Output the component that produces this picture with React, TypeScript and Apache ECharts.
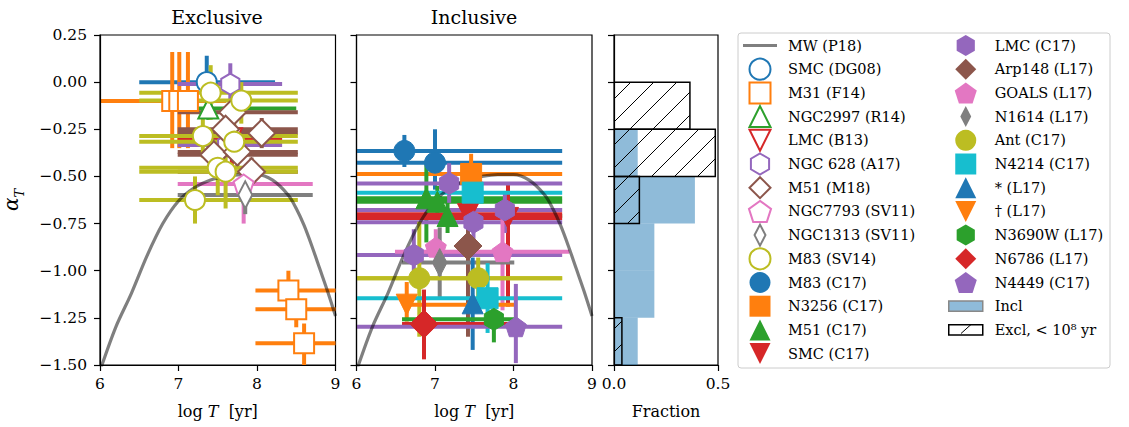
import React, { useEffect, useRef } from 'react';
import * as echarts from 'echarts';

const FONT = 'DejaVu Serif';

// Milky Way (P18) curve: log T and alpha_T
const MW_LOGT = [6.0, 6.2, 6.4, 6.6, 6.8, 7.0, 7.2, 7.4, 7.6, 7.8, 8.0, 8.2, 8.4, 8.5, 8.6, 8.7, 8.8, 8.9, 9.0];
const MW_ALPHA = [-1.53, -1.3, -1.12, -0.92, -0.75, -0.63, -0.56, -0.52, -0.5, -0.49, -0.49, -0.52, -0.6, -0.67, -0.76, -0.87, -0.99, -1.11, -1.24];

// rows: [logT, alpha, logT_lo, logT_hi, alpha_lo, alpha_hi]
// Exclusive
const SMC_DG08 = [[7.36, 0.0, 6.5, 8.23, -0.06, 0.14]];
const M31_F14 = [
  [6.92, -0.1, 5.7, 7.6, -0.35, 0.16],
  [7.01, -0.1, 5.7, 7.6, -0.35, 0.16],
  [7.12, -0.1, 5.7, 7.6, -0.35, 0.16],
  [8.4, -1.105, 7.98, 9.3, -1.17, -1.0],
  [8.5, -1.205, 7.98, 9.3, -1.3, -1.12],
  [8.6, -1.385, 7.98, 9.3, -1.5, -1.28],
];
const NGC2997_R14 = [[7.38, -0.14, 6.99, 8.5, -0.2, -0.08]];
const LMC_B13 = [[7.68, -0.298, 6.99, 8.32, -0.45, -0.2]];
const NGC628_A17 = [
  [7.66, -0.01, 6.99, 8.32, -0.1, 0.1],
  [7.62, -0.333, 6.99, 8.32, -0.4, -0.27],
];
const M51_M18 = [
  [7.69, -0.16, 6.99, 8.52, -0.24, -0.08],
  [7.6, -0.25, 6.99, 8.52, -0.33, -0.17],
  [8.06, -0.27, 6.99, 8.52, -0.35, -0.19],
  [7.45, -0.385, 6.99, 8.52, -0.46, -0.3],
  [7.75, -0.37, 6.99, 8.52, -0.45, -0.29],
  [7.93, -0.475, 6.99, 8.52, -0.55, -0.4],
];
const NGC7793_SV11 = [[7.83, -0.54, 6.99, 8.71, -0.75, -0.45]];
const NGC1313_SV11 = [[7.85, -0.598, 6.99, 8.71, -0.7, -0.5]];
const M83_SV14 = [
  [7.41, -0.056, 6.5, 8.52, -0.2, 0.09],
  [7.8, -0.098, 6.5, 8.52, -0.22, 0.0],
  [7.31, -0.286, 6.5, 8.52, -0.4, -0.17],
  [7.71, -0.316, 6.5, 8.52, -0.42, -0.22],
  [7.5, -0.454, 6.5, 8.52, -0.6, -0.36],
  [7.6, -0.475, 6.5, 8.52, -0.67, -0.38],
  [7.21, -0.625, 6.5, 8.52, -0.75, -0.5],
];

// Inclusive
const M83_C17 = [
  [6.61, -0.365, 5.5, 8.62, -0.45, -0.28],
  [7.0, -0.427, 5.5, 8.62, -0.57, -0.25],
];
const N3256_C17 = [[7.46, -0.487, 5.5, 8.62, -0.66, -0.38]];
const M51_C17 = [
  [6.89, -0.616, 5.5, 8.62, -0.85, -0.44],
  [7.03, -0.634, 5.5, 8.62, -0.72, -0.55],
  [7.16, -0.71, 5.5, 8.62, -0.8, -0.62],
];
const SMC_C17 = [
  [7.42, -0.7, 5.5, 8.62, -0.75, -0.62],
  [7.93, -0.72, 5.5, 8.62, -1.19, -0.53],
];
const LMC_C17 = [
  [7.18, -0.537, 5.5, 8.62, -0.64, -0.43],
  [7.89, -0.678, 5.5, 8.62, -0.8, -0.58],
  [7.49, -0.743, 5.5, 8.62, -0.85, -0.66],
  [6.73, -0.917, 5.5, 8.62, -1.05, -0.78],
];
const ARP148_L17 = [[7.42, -0.869, 7.42, 7.42, -1.35, -0.74]];
const GOALS_L17 = [
  [7.01, -0.875, 7.01, 7.01, -0.98, -0.78],
  [7.86, -0.899, 6.49, 8.71, -1.21, -0.69],
];
const N1614_L17 = [[7.06, -0.957, 6.58, 8.01, -1.14, -0.77]];
const ANT_C17 = [
  [6.8, -1.04, 5.5, 8.62, -1.35, -0.74],
  [7.55, -1.04, 5.5, 8.62, -1.16, -0.93],
];
const N4214_C17 = [
  [7.48, -0.586, 5.5, 8.62, -0.63, -0.54],
  [7.67, -1.146, 5.5, 8.62, -1.33, -0.96],
];
const STAR_L17 = [[7.48, -1.173, 7.48, 7.48, -1.42, -0.93]];
const DAGGER_L17 = [[6.64, -1.18, 6.63, 8.01, -1.27, -1.06]];
const N3690W_L17 = [[7.75, -1.258, 6.58, 8.01, -1.38, -1.21]];
const N6786_L17 = [[6.86, -1.283, 6.58, 8.01, -1.47, -1.1]];
const N4449_C17 = [[8.03, -1.297, 5.5, 8.62, -1.49, -1.07]];

// Histogram bins (alpha_T) and fractions
const BIN_LO = [-1.5, -1.25, -1.0, -0.75, -0.5, -0.25];
const BIN_HI = [-1.25, -1.0, -0.75, -0.5, -0.25, 0.0];
const INCL_FRAC = [0.114, 0.194, 0.194, 0.389, 0.114, 0];
const EXCL_FRAC = [0.038, 0, 0, 0.122, 0.487, 0.365];

const X_MIN = 6, X_MAX = 9, Y_MIN = -1.5, Y_MAX = 0.25;

const C = {
  blue: '#1f77b4', orange: '#ff7f0e', green: '#2ca02c', red: '#d62728', purple: '#9467bd',
  brown: '#8c564b', pink: '#e377c2', gray: '#7f7f7f', olive: '#bcbd22', cyan: '#17becf',
};
const HEX = 'path://M0,-10L8.66,-5L8.66,5L0,10L-8.66,5L-8.66,-5Z';
const PENT = 'path://M0,-10L9.51,-3.09L5.88,8.09L-5.88,8.09L-9.51,-3.09Z';
const TRI_DOWN = 'path://M-10,-10L10,-10L0,10Z';
const TRI_UP = 'path://M0,-10L10,10L-10,10Z';
const SQUARE = 'path://M0,0H20V20H0Z';
const DIAMOND = 'path://M0,-10L10,0L0,10L-10,0Z';
const THIN_D = 'path://M0,-10L5.2,0L0,10L-5.2,0Z';

const DATASETS = [
  { name: 'SMC (DG08)', rows: SMC_DG08, color: C.blue, symbol: 'circle', size: 20, open: true, panel: 0 },
  { name: 'M31 (F14)', rows: M31_F14, color: C.orange, symbol: SQUARE, size: 20, open: true, panel: 0 },
  { name: 'NGC2997 (R14)', rows: NGC2997_R14, color: C.green, symbol: TRI_UP, size: 20, open: true, panel: 0 },
  { name: 'LMC (B13)', rows: LMC_B13, color: C.red, symbol: TRI_DOWN, size: 20, open: true, panel: 0 },
  { name: 'NGC 628 (A17)', rows: NGC628_A17, color: C.purple, symbol: HEX, size: 21, open: true, panel: 0 },
  { name: 'M51 (M18)', rows: M51_M18, color: C.brown, symbol: DIAMOND, size: 27, open: true, panel: 0 },
  { name: 'NGC7793 (SV11)', rows: NGC7793_SV11, color: C.pink, symbol: PENT, size: 20, open: true, panel: 0 },
  { name: 'NGC1313 (SV11)', rows: NGC1313_SV11, color: C.gray, symbol: THIN_D, size: 27, open: true, panel: 0 },
  { name: 'M83 (SV14)', rows: M83_SV14, color: C.olive, symbol: 'circle', size: 20, open: true, panel: 0 },
  { name: 'M83 (C17)', rows: M83_C17, color: C.blue, symbol: 'circle', size: 21, open: false, panel: 1 },
  { name: 'N3256 (C17)', rows: N3256_C17, color: C.orange, symbol: SQUARE, size: 21, open: false, panel: 1 },
  { name: 'M51 (C17)', rows: M51_C17, color: C.green, symbol: TRI_UP, size: 21, open: false, panel: 1 },
  { name: 'SMC (C17)', rows: SMC_C17, color: C.red, symbol: TRI_DOWN, size: 21, open: false, panel: 1 },
  { name: 'LMC (C17)', rows: LMC_C17, color: C.purple, symbol: HEX, size: 22, open: false, panel: 1 },
  { name: 'Arp148 (L17)', rows: ARP148_L17, color: C.brown, symbol: DIAMOND, size: 28, open: false, panel: 1 },
  { name: 'GOALS (L17)', rows: GOALS_L17, color: C.pink, symbol: PENT, size: 21, open: false, panel: 1 },
  { name: 'N1614 (L17)', rows: N1614_L17, color: C.gray, symbol: THIN_D, size: 28, open: false, panel: 1 },
  { name: 'Ant (C17)', rows: ANT_C17, color: C.olive, symbol: 'circle', size: 21, open: false, panel: 1 },
  { name: 'N4214 (C17)', rows: N4214_C17, color: C.cyan, symbol: SQUARE, size: 21, open: false, panel: 1 },
  { name: '* (L17)', rows: STAR_L17, color: C.blue, symbol: TRI_UP, size: 21, open: false, panel: 1 },
  { name: '† (L17)', rows: DAGGER_L17, color: C.orange, symbol: TRI_DOWN, size: 21, open: false, panel: 1 },
  { name: 'N3690W (L17)', rows: N3690W_L17, color: C.green, symbol: HEX, size: 22, open: false, panel: 1 },
  { name: 'N6786 (L17)', rows: N6786_L17, color: C.red, symbol: DIAMOND, size: 28, open: false, panel: 1 },
  { name: 'N4449 (C17)', rows: N4449_C17, color: C.purple, symbol: PENT, size: 21, open: false, panel: 1 },
];

const MW_NAME = 'MW (P18)';
const INCL_NAME = 'Incl';
const EXCL_NAME = 'Excl, < 10⁸ yr';
const INCL_FILL = 'rgba(31,119,180,0.5)';
const MW_COLOR = 'rgba(0,0,0,0.5)';

const clamp = (v: number, a: number, b: number) => Math.max(a, Math.min(b, v));

function buildOption() {
  const grids = [
    { left: 99, top: 35, width: 236.5, height: 330 },
    { left: 356.5, top: 35, width: 235.5, height: 330 },
    { left: 614, top: 35, width: 104, height: 330 },
  ].map((g) => ({ ...g, show: true, borderColor: '#000', borderWidth: 1.2, containLabel: false }));

  const tickStyle = { show: true, inside: false, length: 6, lineStyle: { color: '#000', width: 1.2 } };
  const lineStyle = { show: true, onZero: false, lineStyle: { color: '#000', width: 1.2 } };
  const labelFont = { fontFamily: FONT, fontSize: 15.5, color: '#000' };
  const nameStyle = {
    fontFamily: FONT, fontSize: 16, color: '#000',
    rich: {
      n: { fontFamily: FONT, fontSize: 16, color: '#000' },
      i: { fontFamily: FONT, fontSize: 16, color: '#000', fontStyle: 'italic' },
    },
  };

  const xAxes: any[] = [0, 1].map((i) => ({
    type: 'value', gridIndex: i, min: X_MIN, max: X_MAX, interval: 1, z: 10,
    axisLine: lineStyle, axisTick: tickStyle, splitLine: { show: false },
    axisLabel: { ...labelFont, margin: 11 },
    name: '{n|log }{i|T}{n|  [yr]}', nameLocation: 'middle', nameGap: 38, nameTextStyle: nameStyle,
  }));
  xAxes.push({
    type: 'value', gridIndex: 2, min: 0, max: 0.5, interval: 0.5, z: 10,
    axisLine: lineStyle, axisTick: tickStyle, splitLine: { show: false },
    axisLabel: { ...labelFont, margin: 11, formatter: (v: number) => v.toFixed(1) },
    name: 'Fraction', nameLocation: 'middle', nameGap: 38, nameTextStyle: nameStyle,
  });

  const yAxes: any[] = [0, 1, 2].map((i) => ({
    type: 'value', gridIndex: i, min: Y_MIN, max: Y_MAX, interval: 0.25, z: 10,
    axisLine: lineStyle, axisTick: tickStyle, splitLine: { show: false },
    axisLabel: {
      show: i === 0, ...labelFont, margin: 13,
      formatter: (v: number) => (v < 0 ? '−' : '') + Math.abs(v).toFixed(2),
    },
    ...(i === 0
      ? {
          name: '{a|α}{s|T}', nameLocation: 'middle', nameGap: 74, nameRotate: 90,
          nameTextStyle: {
            rich: {
              a: { fontFamily: FONT, fontSize: 20, fontStyle: 'italic', color: '#000', verticalAlign: 'middle', lineHeight: 30 },
              s: { fontFamily: FONT, fontSize: 13, fontStyle: 'italic', color: '#000', verticalAlign: 'bottom', lineHeight: 30 },
            },
          },
        }
      : {}),
  }));

  const series: any[] = [];

  // Error bars (drawn below everything else)
  DATASETS.forEach((ds) => {
    series.push({
      type: 'custom', name: ds.name + ' err', xAxisIndex: ds.panel, yAxisIndex: ds.panel,
      z: 2, silent: true, clip: true, data: ds.rows, encode: { x: 0, y: 1 },
      renderItem: (_p: any, api: any) => {
        const x = api.value(0), y = api.value(1);
        const x0 = clamp(api.value(2), X_MIN, X_MAX), x1 = clamp(api.value(3), X_MIN, X_MAX);
        const y0 = clamp(api.value(4), Y_MIN, Y_MAX), y1 = clamp(api.value(5), Y_MIN, Y_MAX);
        const children: any[] = [];
        if (x1 > x0) {
          const a = api.coord([x0, y]), b = api.coord([x1, y]);
          children.push({ type: 'line', shape: { x1: a[0], y1: a[1], x2: b[0], y2: b[1] }, style: { stroke: ds.color, lineWidth: 4 } });
        }
        if (y1 > y0) {
          const c = api.coord([x, y0]), d = api.coord([x, y1]);
          children.push({ type: 'line', shape: { x1: c[0], y1: c[1], x2: d[0], y2: d[1] }, style: { stroke: ds.color, lineWidth: 4 } });
        }
        return { type: 'group', children };
      },
    });
  });

  // MW curve in both panels
  const mwData = MW_LOGT.map((t, i) => [t, MW_ALPHA[i]]);
  [0, 1].forEach((p) => {
    series.push({
      type: 'line', name: MW_NAME, xAxisIndex: p, yAxisIndex: p, data: mwData, z: 3,
      symbol: 'none', smooth: 0.3, clip: true, silent: true,
      lineStyle: { color: MW_COLOR, width: 3.2 }, itemStyle: { color: MW_COLOR },
    });
  });

  // Markers
  DATASETS.forEach((ds) => {
    series.push({
      type: 'scatter', name: ds.name, xAxisIndex: ds.panel, yAxisIndex: ds.panel, z: 4, silent: true,
      data: ds.rows.map((r) => [r[0], r[1]]),
      symbol: ds.symbol, symbolSize: ds.size, symbolKeepAspect: true,
      itemStyle: ds.open
        ? { color: '#ffffff', borderColor: ds.color, borderWidth: 2, opacity: 1 }
        : { color: ds.color, borderColor: ds.color, borderWidth: 1, opacity: 1 },
    });
  });

  // Histogram
  const inclData = BIN_LO.map((lo, i) => [lo, BIN_HI[i], INCL_FRAC[i]]);
  const exclData = BIN_LO.map((lo, i) => [lo, BIN_HI[i], EXCL_FRAC[i]]);
  series.push({
    type: 'custom', name: INCL_NAME, xAxisIndex: 2, yAxisIndex: 2, z: 2, silent: true, clip: true,
    data: inclData, itemStyle: { color: INCL_FILL },
    renderItem: (_p: any, api: any) => {
      const lo = api.value(0), hi = api.value(1), f = api.value(2);
      if (!(f > 0)) return null;
      const p0 = api.coord([0, hi]), p1 = api.coord([f, lo]);
      return { type: 'rect', shape: { x: p0[0], y: p0[1], width: p1[0] - p0[0], height: p1[1] - p0[1] }, style: { fill: INCL_FILL } };
    },
  });
  series.push({
    type: 'custom', name: EXCL_NAME, xAxisIndex: 2, yAxisIndex: 2, z: 3, silent: true, clip: true,
    data: exclData, itemStyle: { color: '#fff' },
    renderItem: (_p: any, api: any) => {
      const lo = api.value(0), hi = api.value(1), f = api.value(2);
      if (!(f > 0)) return null;
      const p0 = api.coord([0, hi]), p1 = api.coord([f, lo]);
      const x0 = p0[0], y0 = p0[1], x1 = p1[0], y1 = p1[1];
      const s = 23;
      const children: any[] = [];
      for (let k = Math.ceil((x0 + y0) / s); k * s <= x1 + y1; k++) {
        const c = k * s;
        const xa = Math.max(x0, c - y1), xb = Math.min(x1, c - y0);
        if (xb <= xa) continue;
        children.push({ type: 'line', shape: { x1: xa, y1: c - xa, x2: xb, y2: c - xb }, style: { stroke: '#000', lineWidth: 1 } });
      }
      children.push({ type: 'rect', shape: { x: x0, y: y0, width: x1 - x0, height: y1 - y0 }, style: { fill: 'none', stroke: '#000', lineWidth: 1.5 } });
      return { type: 'group', children };
    },
  });

  const legendItem = (name: string) => {
    const ds = DATASETS.find((d) => d.name === name);
    if (!ds) return { name };
    return {
      name,
      icon: ds.symbol,
      itemStyle: ds.open
        ? { color: '#ffffff', borderColor: ds.color, borderWidth: 2 }
        : { color: ds.color, borderColor: ds.color, borderWidth: 0 },
    };
  };
  const colA = DATASETS.slice(0, 13).map((d) => d.name);
  const colB = DATASETS.slice(13).map((d) => d.name);
  const legendText = { fontFamily: FONT, fontSize: 14.5, color: '#000', lineHeight: 23 };
  const common = {
    top: 34, orient: 'vertical', itemWidth: 34, itemHeight: 21, itemGap: 0.7, padding: 0,
    selectedMode: false, symbolKeepAspect: true,
  };
  const legends = [
    {
      ...common, left: 743, textStyle: { ...legendText, padding: [0, 0, 0, 6] },
      data: [
        { name: MW_NAME, icon: 'path://M0,0H36V3H0Z', itemStyle: { color: MW_COLOR, borderWidth: 0 }, lineStyle: { color: MW_COLOR, width: 3.2 } },
        ...colA.map(legendItem),
      ],
    },
    {
      ...common, left: 948, textStyle: { ...legendText, padding: [0, 0, 0, 7] },
      data: [
        ...colB.map(legendItem),
        { name: INCL_NAME, icon: 'path://M0,0H33V10H0Z', itemStyle: { color: INCL_FILL, borderColor: '#888', borderWidth: 1.5 } },
        { name: EXCL_NAME, icon: 'path://M0,0H33V10H0Z', itemStyle: { color: '#fff', borderColor: '#000', borderWidth: 1.5 } },
      ],
    },
  ];

  const graphic = [
    { type: 'rect', z: -10, shape: { x: 738, y: 33, width: 372, height: 335, r: 3 }, style: { fill: '#fff', stroke: '#cccccc', lineWidth: 1 } },
    { type: 'line', z: 100, shape: { x1: 961, y1: 333.5, x2: 971, y2: 324.5 }, style: { stroke: '#000', lineWidth: 1 } },
    { type: 'text', x: 217, y: 17, style: { text: 'Exclusive', fontFamily: FONT, fontSize: 19, fill: '#000', align: 'center', verticalAlign: 'middle' } },
    { type: 'text', x: 474, y: 17, style: { text: 'Inclusive', fontFamily: FONT, fontSize: 19, fill: '#000', align: 'center', verticalAlign: 'middle' } },
  ];

  return {
    animation: false,
    backgroundColor: '#fff',
    grid: grids,
    xAxis: xAxes,
    yAxis: yAxes,
    legend: legends,
    graphic,
    series,
  };
}

export default function App() {
  const ref = useRef<HTMLDivElement>(null);
  useEffect(() => {
    if (!ref.current) return;
    const chart = echarts.init(ref.current, null, { renderer: 'svg' });
    chart.setOption(buildOption() as any);
    return () => chart.dispose();
  }, []);
  return <div ref={ref} style={{ position: 'fixed', left: 0, top: 0, width: 1129, height: 427 }} />;
}
